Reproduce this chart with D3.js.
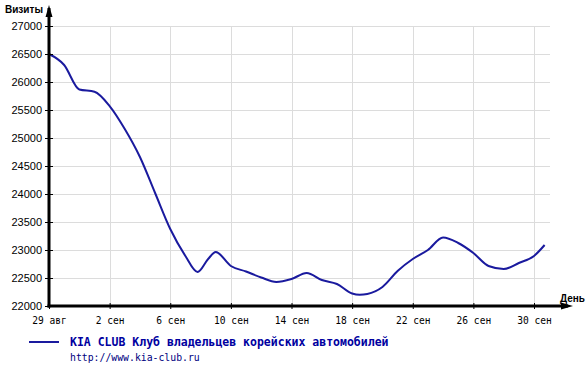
<!DOCTYPE html>
<html><head><meta charset="utf-8">
<script src="https://cdn.jsdelivr.net/npm/d3@7"></script>
<style>
body{margin:0;background:#fff;}
svg{display:block;}
</style></head>
<body><svg id="c" width="588" height="365"></svg>
<script>
// Day offsets from 29 Aug and visit counts
const days = [0,1,2,3,4,5,6,7,8,9,9.8,10.5,11,12,13,14,15,16,17,18,19,20,20.5,21,22,23,24,25,26,27,28,29,30,31,32,32.7];
const visits = [26500,26304,25866,25827,25571,25161,24661,24018,23375,22893,22607,22840,22964,22714,22616,22509,22429,22482,22589,22464,22393,22223,22200,22214,22339,22625,22839,23000,23223,23125,22946,22714,22661,22768,22893,23089];
const yTicks = [22000,22500,23000,23500,24000,24500,25000,25500,26000,26500,27000];
const xTickDays = [0,4,8,12,16,20,24,28,32];
const xTickLabels = ["29 авг","2 сен","6 сен","10 сен","14 сен","18 сен","22 сен","26 сен","30 сен"];
const seriesName = "KIA CLUB Клуб владельцев корейских автомобилей";
const seriesUrl = "http://www.kia-club.ru";
const yTitle = "Визиты";
const xTitle = "День";

const svg = d3.select("#c");
const x = d3.scaleLinear().domain([0,32]).range([49,534]);
const y = d3.scaleLinear().domain([22000,27000]).range([306,26]);
const gridRight = 550;

// grid
const g = svg.append("g");
g.selectAll(".hg").data(yTicks.slice(1)).join("line")
  .attr("x1",49).attr("x2",gridRight)
  .attr("y1",d=>y(d)+0.5).attr("y2",d=>y(d)+0.5)
  .attr("stroke","#dcdcdc").attr("stroke-width",1);
g.selectAll(".vg").data(xTickDays.slice(1)).join("line")
  .attr("x1",d=>Math.round(x(d))+0.5).attr("x2",d=>Math.round(x(d))+0.5)
  .attr("y1",y(27000)).attr("y2",306)
  .attr("stroke","#dcdcdc").attr("stroke-width",1);

// line
const line = d3.line().x((d,i)=>x(days[i])).y(d=>y(d)).curve(d3.curveMonotoneX);
svg.append("path").datum(visits).attr("d",line)
  .attr("fill","none").attr("stroke","#1a1a9e").attr("stroke-width",2)
  .attr("stroke-linejoin","round");

// y axis
const ya = svg.append("g").attr("transform","translate(49,0)")
  .call(d3.axisLeft(y).tickValues(yTicks).tickSize(4).tickFormat(d3.format("d")));
ya.select(".domain").remove();
ya.selectAll(".tick line").attr("x1",-4).attr("x2",4).attr("stroke","#000").attr("stroke-width",1);
ya.selectAll(".tick text").attr("x",-7).attr("dy","0.35em")
  .style("font-family","'Liberation Sans', Arial, sans-serif").style("font-size","11px").attr("fill","#000");

// x axis
const xa = svg.append("g").attr("transform","translate(0,306)")
  .call(d3.axisBottom(x).tickValues(xTickDays).tickSize(4).tickFormat((d,i)=>xTickLabels[i]));
xa.select(".domain").remove();
xa.selectAll(".tick line").attr("y1",-3).attr("y2",3).attr("stroke","#000").attr("stroke-width",1);
xa.selectAll(".tick text").attr("y",11).attr("dy","0.71em")
  .style("font-family","'DejaVu Sans Mono', monospace").style("font-size","9.6px").attr("fill","#000");

// axis lines
svg.append("line").attr("x1",49).attr("x2",49).attr("y1",8).attr("y2",307.5)
  .attr("stroke","#000").attr("stroke-width",3);
svg.append("line").attr("x1",47.5).attr("x2",568).attr("y1",306).attr("y2",306)
  .attr("stroke","#000").attr("stroke-width",3);
// arrows
svg.append("path").attr("d","M49,5 L52.5,17 L45.5,17 Z").attr("fill","#000");
svg.append("path").attr("d","M573,306 L561,302.5 L561,309.5 Z").attr("fill","#000");

// axis titles
svg.append("text").attr("x",5).attr("y",13).text(yTitle)
  .style("font-family","'Liberation Sans', Arial, sans-serif").style("font-size","10px").style("font-weight","bold");
svg.append("text").attr("x",560).attr("y",302).text(xTitle)
  .style("font-family","'Liberation Sans', Arial, sans-serif").style("font-size","10px").style("font-weight","bold");

// legend
svg.append("line").attr("x1",29).attr("x2",59).attr("y1",342).attr("y2",342)
  .attr("stroke","#1a1a9e").attr("stroke-width",2);
svg.append("text").attr("x",70).attr("y",346).text(seriesName)
  .style("font-family","'DejaVu Sans Mono', monospace").style("font-size","11.5px").style("font-weight","bold").attr("fill","#0000a0");
svg.append("text").attr("x",70).attr("y",361).text(seriesUrl)
  .style("font-family","'DejaVu Sans Mono', monospace").style("font-size","9.8px").attr("fill","#000080");
</script></body></html>
